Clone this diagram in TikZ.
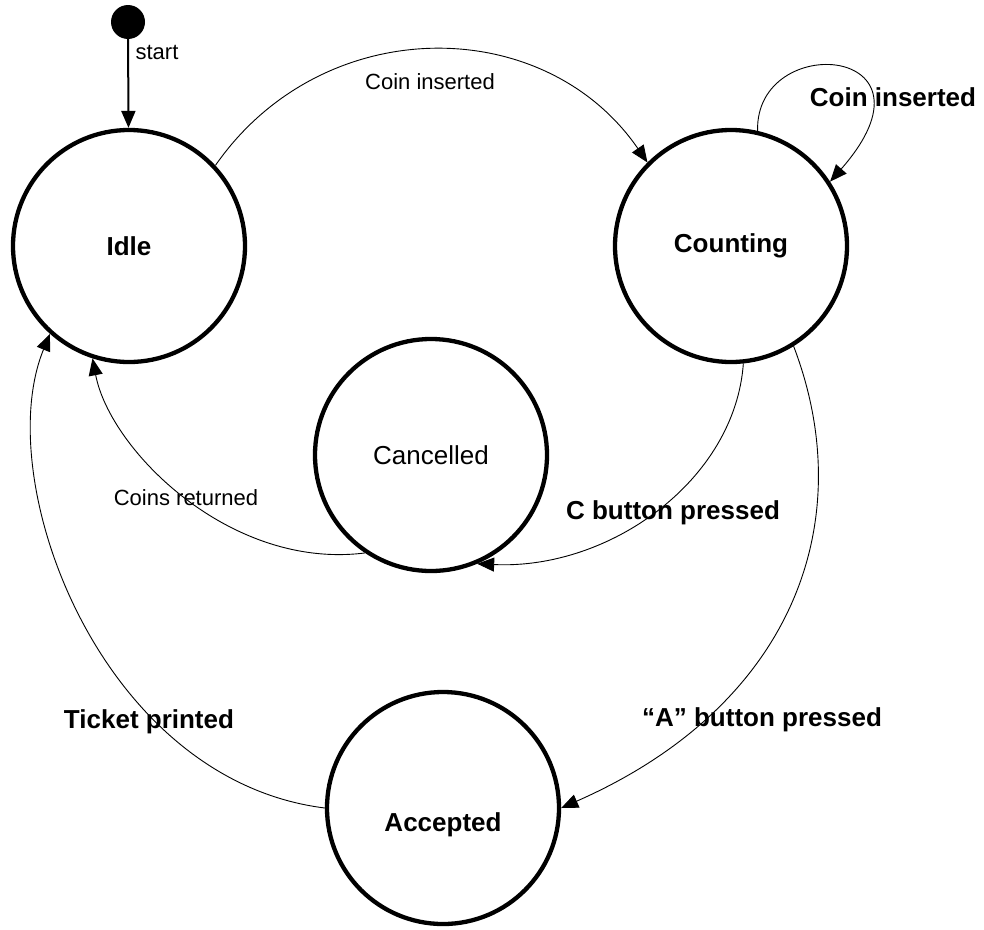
\documentclass[tikz,border=0pt]{standalone}
\usepackage{fontspec}
\setmainfont{Liberation Sans}
\usetikzlibrary{arrows.meta}

\begin{document}
\begin{tikzpicture}[x=1pt, y=-1pt, >={Triangle[length=17pt,width=14pt]}]
\tikzstyle{state_style} = [circle, draw=black, line width=4.3pt, minimum size=232pt, inner sep=0pt, font=\fontsize{26}{30}\selectfont\bfseries]
\tikzstyle{edge_style} = [draw=black, line width=0.9pt, ->]
\tikzstyle{small_label} = [font=\fontsize{22}{26}\selectfont]
\tikzstyle{big_label} = [font=\fontsize{26}{30}\selectfont\bfseries]

\useasboundingbox (0,0) rectangle (984,929);

\node[circle, fill=black, minimum size=34pt, inner sep=0pt] (init) at (128,22) {};
\node[state_style] (idle) at (129,246) {Idle};
\node[state_style] (counting) at (731,246) {Counting};
\node[state_style, font=\fontsize{26}{30}\selectfont] (cancelled) at (431,455) {Cancelled};
\node[state_style] (accepted) at (443,808) {};
\node[big_label] (accepted_text) at (443,825) {Accepted};

% labels
\node[small_label] (l_start) at (157,52) {start};
\node[small_label] (l_coin1) at (430,82) {Coin inserted};
\node[big_label] (l_coin2) at (893,97) {Coin inserted};
\node[big_label] (l_cbutton) at (673,513) {C button pressed};
\node[small_label] (l_return) at (186,498) {Coins returned};
\node[big_label] (l_abutton) at (762,720) {``A'' button pressed};
\node[big_label] (l_ticket) at (149,722) {Ticket printed};

% transitions
\draw[line width=2pt, -{Triangle[length=17pt,width=14pt]}] (init) -- (idle);
\draw[edge_style] (idle.43) .. controls (322,12) and (544,12) .. (counting.135);
\draw[edge_style] (counting.77) .. controls (755,30) and (950,45) .. (counting.33);
\draw[edge_style] (counting.-84) .. controls (735,480) and (610,570) .. (cancelled.-67);
\draw[edge_style] (cancelled.-124) .. controls (230,570) and (110,450) .. (idle.-108);
\draw[edge_style] (counting.-58) .. controls (860,520) and (795,705) .. (accepted.0);
\draw[edge_style] (accepted.180) .. controls (100,780) and (-10,480) .. (idle.-132);
\end{tikzpicture}
\end{document}
